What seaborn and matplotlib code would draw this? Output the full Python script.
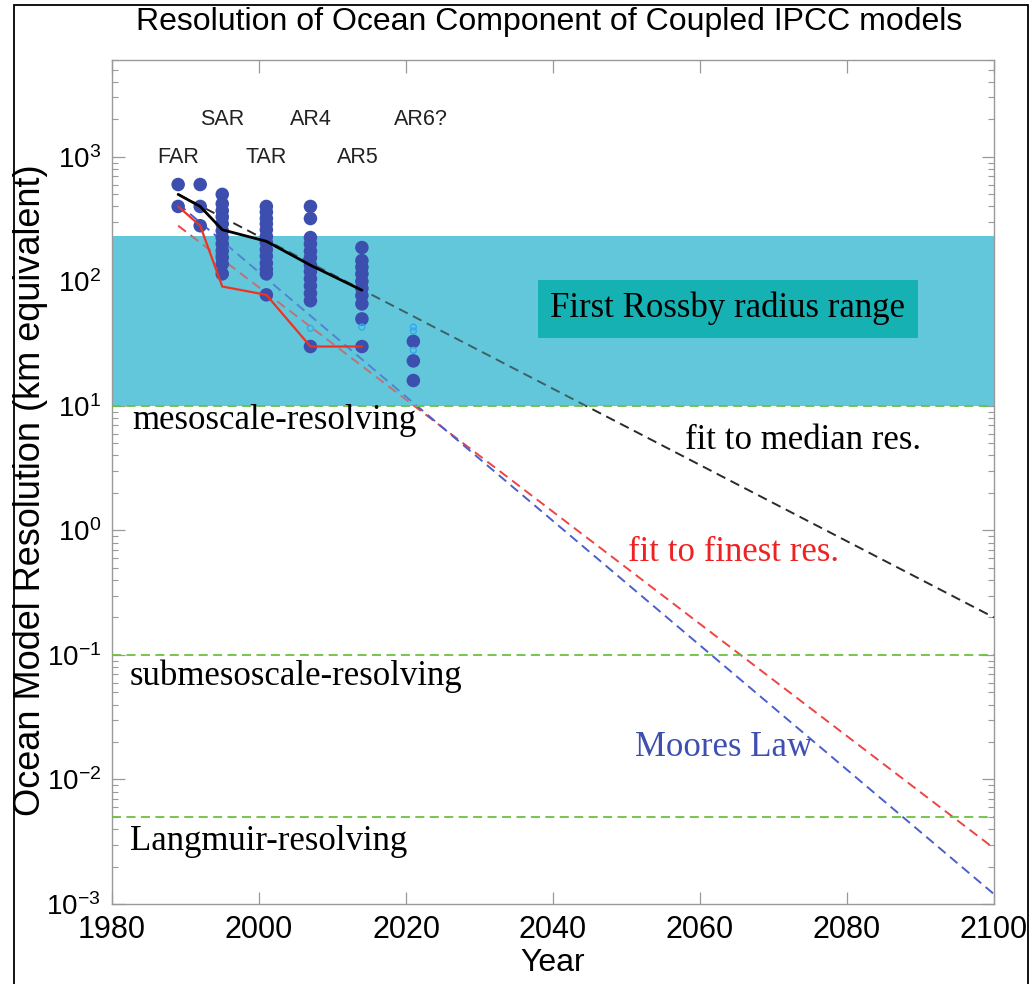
import matplotlib
matplotlib.use('Agg')
import matplotlib.pyplot as plt
import matplotlib.ticker as mticker
from matplotlib.patches import Rectangle
import seaborn as sns
import pandas as pd

# ---------------- data ----------------
col_years = [1989, 1992, 1995, 2001, 2007, 2014, 2021]
res_1989 = [600, 400]
res_1992 = [600, 400, 280]
res_1995 = [500, 420, 370, 330, 290, 255, 225, 200, 176, 156, 138, 115]
res_2001 = [400, 360, 320, 290, 260, 230, 205, 180, 160, 140, 125, 115, 78]
res_2007 = [400, 320, 225, 200, 175, 155, 135, 120, 105, 92, 80, 70, 30]
res_2014 = [187, 147, 130, 115, 100, 88, 77, 66, 50, 30]
res_2021 = [33, 23, 16]
col_values = [res_1989, res_1992, res_1995, res_2001, res_2007, res_2014, res_2021]

hollow_years = [2007, 2014, 2021, 2021, 2021]
hollow_res = [42, 43, 43, 40, 28]

median_years = [1989, 1992, 1995, 2001, 2007, 2014]
median_res = [500, 400, 260, 210, 135, 85]
finest_years = [1989, 1992, 1995, 2001, 2007, 2014]
finest_res = [400, 280, 91, 78, 30, 30]

fit_years = [1989, 2100]
median_fit = [500, 0.2]
finest_fit = [280, 0.0028]
moore_fit = [420, 0.0012]

rossby_low, rossby_high = 10, 230
threshold_values = [10, 0.1, 0.005]
threshold_names = ['mesoscale-resolving', 'submesoscale-resolving', 'Langmuir-resolving']

report_labels = ['FAR', 'SAR', 'TAR', 'AR4', 'AR5', 'AR6?']
report_years = [1989, 1995, 2001, 2007, 2013.5, 2022]

x_ticks = [1980, 2000, 2020, 2040, 2060, 2080, 2100]
y_ticks = [1e-3, 1e-2, 1e-1, 1e0, 1e1, 1e2, 1e3]

# ---------------- style ----------------
sns.set_style('ticks')
plt.rcParams['font.family'] = ['Liberation Sans', 'DejaVu Sans']
plt.rcParams['mathtext.fontset'] = 'custom'
plt.rcParams['mathtext.rm'] = 'Liberation Sans'
plt.rcParams['mathtext.it'] = 'Liberation Sans'
plt.rcParams['text.color'] = 'black'
plt.rcParams['axes.labelcolor'] = 'black'

SERIF = ['Liberation Serif', 'DejaVu Serif']
BAND = '#63c7db'
BOX = '#16b1b3'
GREEN = '#6cc040'
DOT = '#3c4fae'
RED = '#ee3322'
BLUE = '#4a5fcc'

fig = plt.figure(figsize=(10.31, 9.84), dpi=100)
ax = fig.add_axes([112/1031, 1-904/984, (994-112)/1031, (904-60)/984])
ax.set_yscale('log')

rows = []
for yr, vals in zip(col_years, col_values):
    for v in vals:
        rows.append({'year': yr, 'res': v})
pts = pd.DataFrame(rows)
hol = pd.DataFrame({'year': hollow_years, 'res': hollow_res})
med = pd.DataFrame({'year': median_years, 'res': median_res})
fin = pd.DataFrame({'year': finest_years, 'res': finest_res})
fits = pd.DataFrame({'year': fit_years, 'median': median_fit,
                     'finest': finest_fit, 'moore': moore_fit})

# Rossby band
ax.axhspan(rossby_low, rossby_high, color=BAND, lw=0, zorder=1)

# fit lines
dash = (0, (5, 3))
sns.lineplot(data=fits, x='year', y='median', ax=ax, color='#2a2a2a', lw=1.4,
             linestyle=dash, zorder=2)
sns.lineplot(data=fits, x='year', y='finest', ax=ax, color='#ee4444', lw=1.4,
             linestyle=dash, zorder=2)
sns.lineplot(data=fits, x='year', y='moore', ax=ax, color=BLUE, lw=1.4,
             linestyle=dash, zorder=2)
# tint over lines inside band
ax.axhspan(rossby_low, rossby_high, color=BAND, alpha=0.35, lw=0, zorder=2.5)

# thresholds
for v in threshold_values:
    ax.axhline(v, color=GREEN, lw=1.3, linestyle=dash, zorder=3)

# points
sns.scatterplot(data=pts, x='year', y='res', ax=ax, color=DOT, s=95,
                edgecolor='none', zorder=5)
sns.scatterplot(data=hol, x='year', y='res', ax=ax, facecolor='none',
                edgecolor='#33aaee', s=18, linewidth=1.0, zorder=5)

# median and finest
sns.lineplot(data=med, x='year', y='res', ax=ax, color='black', lw=2.0, zorder=6)
sns.lineplot(data=fin, x='year', y='res', ax=ax, color=RED, lw=1.6, zorder=6)

# report labels
for i, (lab, yr) in enumerate(zip(report_labels, report_years)):
    ax.text(yr, 980 if i % 2 == 0 else 1980, lab, ha='center', va='center',
            fontsize=15.5, color='#222222', zorder=7)

# annotation texts
ax.text(1982.7, 7.6, threshold_names[0], fontsize=25, family=SERIF,
        ha='left', va='center', color='black', zorder=7)
ax.text(1982.4, 0.0676, threshold_names[1], fontsize=25, family=SERIF,
        ha='left', va='center', color='black', zorder=7)
ax.text(1982.4, 0.00316, threshold_names[2], fontsize=25, family=SERIF,
        ha='left', va='center', color='black', zorder=7)
ax.text(2058.0, 5.3, 'fit to median res.', fontsize=25, family=SERIF,
        ha='left', va='center', color='black', zorder=7)
ax.text(2050.2, 0.667, 'fit to finest res.', fontsize=25, family=SERIF,
        ha='left', va='center', color='#ee2222', zorder=7)
ax.text(2051.2, 0.0179, 'Moores Law', fontsize=25, family=SERIF,
        ha='left', va='center', color='#3d4fb0', zorder=7)
ax.text(2063.8, 60.4, 'First Rossby radius range', fontsize=25, family=SERIF,
        ha='center', va='center', color='black', zorder=7,
        bbox=dict(boxstyle='square,pad=0.35', facecolor=BOX, edgecolor='none'))

# axes
ax.set_xlim(1980, 2100)
ax.set_ylim(1e-3, 6000)
ax.set_xticks(x_ticks)
ax.xaxis.set_minor_locator(mticker.NullLocator())
ax.yaxis.set_major_locator(mticker.FixedLocator(y_ticks))
ax.yaxis.set_major_formatter(mticker.LogFormatterSciNotation())
ax.yaxis.set_minor_locator(mticker.LogLocator(base=10, subs=range(2, 10), numticks=20))
ax.yaxis.set_minor_formatter(mticker.NullFormatter())
ax.tick_params(axis='both', which='both', direction='in', top=True, right=True,
               color='#999999', labelcolor='black')
ax.tick_params(axis='x', labelsize=22)
ax.tick_params(axis='y', labelsize=20)
ax.tick_params(which='major', length=9, width=0.9, pad=8)
ax.tick_params(which='minor', length=4.5, width=0.8)
for sp in ax.spines.values():
    sp.set_color('#999999')
    sp.set_linewidth(1.0)
ax.set_xlabel('Year', fontsize=23, labelpad=2, color='black')
ax.set_ylabel('Ocean Model Resolution (km equivalent)', fontsize=26, color='black')
ax.yaxis.set_label_coords(-0.072, 0.49)
fig.text(549/1031, 1-22/984, 'Resolution of Ocean Component of Coupled IPCC models',
         ha='center', va='center', fontsize=23, color='black')

# outer frame
fig.patches.append(Rectangle((14/1031, -0.02), (1028-14)/1031, 1.02-5/984,
                             transform=fig.transFigure, fill=False,
                             edgecolor='black', lw=1.3))

fig.savefig('out.png', dpi=100)
